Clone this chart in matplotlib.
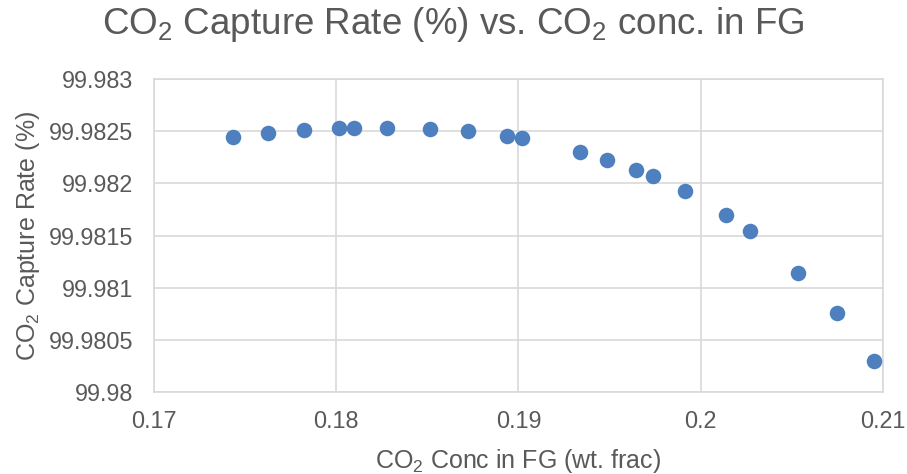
import numpy as np
import matplotlib
matplotlib.use('Agg')
import matplotlib.pyplot as plt

plt.rcParams['font.family'] = ['Liberation Sans', 'DejaVu Sans']
plt.rcParams['mathtext.fontset'] = 'custom'
plt.rcParams['mathtext.rm'] = 'Liberation Sans'
plt.rcParams['mathtext.it'] = 'Liberation Sans'

# CO2 concentration in flue gas (wt. frac)
conc = [0.17432, 0.17627, 0.17825, 0.18017, 0.18097, 0.18277, 0.18514,
        0.18722, 0.18936, 0.19019, 0.19337, 0.19485, 0.19644, 0.19737,
        0.19913, 0.20138, 0.20270, 0.20533, 0.20748, 0.20953]
# capture rate (%)
rate = [99.98244, 99.98248, 99.98251, 99.98253, 99.98253, 99.98253, 99.98252,
        99.98250, 99.98245, 99.98243, 99.98230, 99.98222, 99.98213, 99.98207,
        99.98193, 99.98170, 99.98154, 99.98114, 99.98076, 99.98030]

xticks = [0.17, 0.18, 0.19, 0.2, 0.21]
xlabels = ['0.17', '0.18', '0.19', '0.2', '0.21']
yticks = [99.98, 99.9805, 99.981, 99.9815, 99.982, 99.9825, 99.983]
ylabels = ['99.98', '99.9805', '99.981', '99.9815', '99.982', '99.9825', '99.983']

txt = '#595959'
fig = plt.figure(figsize=(9.07, 4.74), dpi=100)
ax = fig.add_axes([0.1698, 0.173, 0.8037, 0.6603])
ax.scatter(conc, rate, s=125, color='#4E7FBF', zorder=3, linewidths=0)

ax.set_xlim(0.17, 0.21)
ax.set_ylim(99.98, 99.983)
ax.set_xticks(xticks)
ax.set_xticklabels(xlabels)
ax.set_yticks(yticks)
ax.set_yticklabels(ylabels)
ax.grid(True, color='#D9D9D9', linewidth=1.2)
ax.set_axisbelow(True)
for s in ax.spines.values():
    s.set_color('#D9D9D9')
    s.set_linewidth(1.2)
ax.tick_params(length=0, labelsize=16.8, colors=txt)
ax.tick_params(axis='y', pad=15)
ax.tick_params(axis='x', pad=13)

ax.set_xlabel('CO$_2$ Conc in FG (wt. frac)', fontsize=18, color=txt, labelpad=10)
ax.set_ylabel('CO$_2$ Capture Rate (%)', fontsize=18, color=txt, labelpad=5)
fig.suptitle('CO$_2$ Capture Rate (%) vs. CO$_2$ conc. in FG', fontsize=26.5,
             color=txt, y=0.99)

fig.savefig('out.png', dpi=100)
